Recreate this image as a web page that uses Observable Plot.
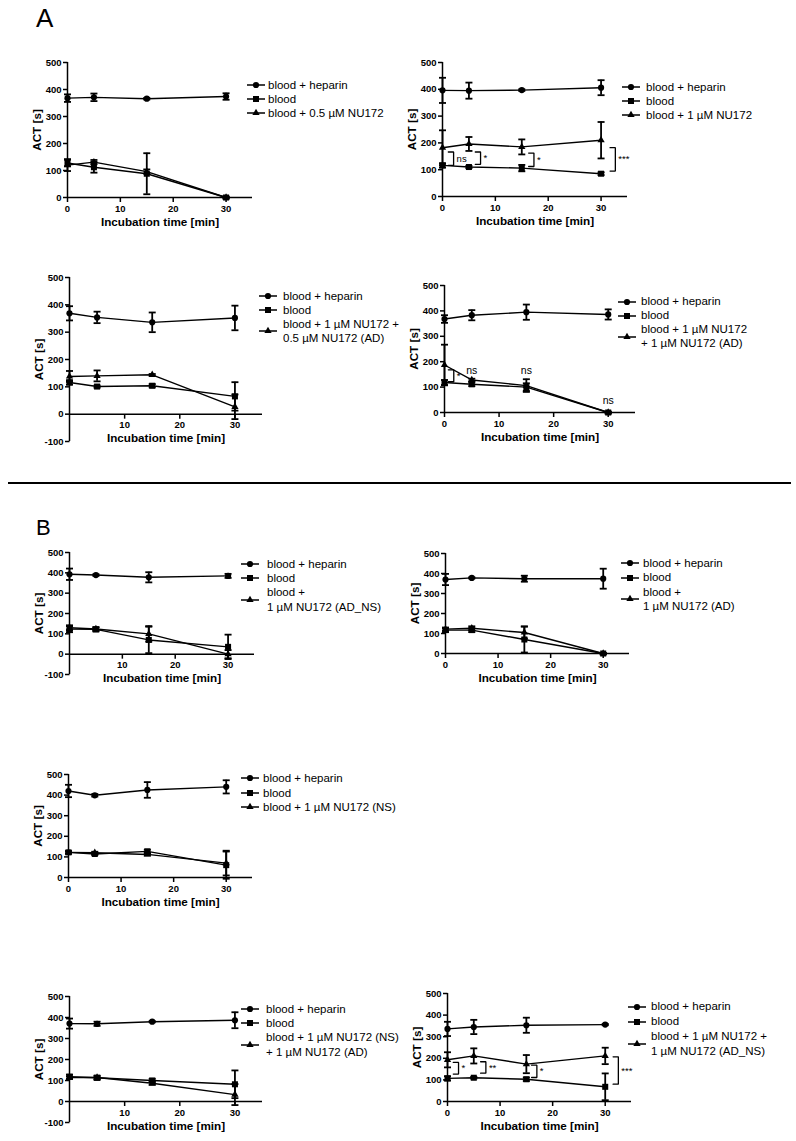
<!DOCTYPE html>
<html><head><meta charset="utf-8">
<script src="https://cdn.jsdelivr.net/npm/d3@7"></script>
<script src="https://cdn.jsdelivr.net/npm/@observablehq/plot@0.6"></script>
<style>
html,body{margin:0;padding:0;background:#fff;}
#page{position:relative;width:796px;height:1141px;overflow:hidden;font-family:"Liberation Sans",Arial,sans-serif;color:#000;background:#fff;}
.leg{position:absolute;font-size:11.5px;white-space:pre;font-family:"Liberation Sans",Arial,sans-serif;}
.letter{position:absolute;font-family:"Liberation Sans",Arial,sans-serif;line-height:1;}
</style></head><body><div id="page"></div>
<script>
// ---------- shared data ----------
const times = [0, 5, 15, 30];
const xTickValues = [0, 10, 20, 30];
const yTickValuesPos = [0, 100, 200, 300, 400, 500];
const yTickValuesNeg = [-100, 0, 100, 200, 300, 400, 500];
const xTitle = "Incubation time [min]";
const yTitle = "ACT [s]";
const labelHeparin = "blood + heparin";
const labelBlood = "blood";

// ---------- A1 ----------
const a1Label = "blood + 0.5 µM NU172";
const a1Heparin = [368, 371, 366, 374];
const a1HeparinErr = [14, 14, 3, 12];
const a1Blood = [128, 112, 88, 0];
const a1BloodErr = [12, 20, 76, 3];
const a1Nu = [120, 131, 96, 0];
const a1NuErr = [22, 8, 8, 3];

// ---------- A2 ----------
const a2Label = "blood + 1 µM NU172";
const a2Heparin = [396, 395, 397, 406];
const a2HeparinErr = [47, 30, 3, 28];
const a2Blood = [116, 110, 106, 85];
const a2BloodErr = [8, 4, 12, 5];
const a2Nu = [182, 196, 185, 210];
const a2NuErr = [65, 26, 28, 68];
const a2Brackets = [
  {x: 2.1, y1: 116, y2: 166, label: "ns"},
  {x: 7.2, y1: 120, y2: 166, label: "*"},
  {x: 17.3, y1: 112, y2: 162, label: "*"},
  {x: 32.7, y1: 95, y2: 182, label: "***"}
];

// ---------- A3 ----------
const a3Label = "blood + 1 µM NU172 +\n0.5 µM NU172 (AD)";
const a3Heparin = [369, 354, 336, 352];
const a3HeparinErr = [26, 21, 36, 45];
const a3Blood = [116, 101, 104, 65];
const a3BloodErr = [8, 4, 6, 52];
const a3Nu = [138, 140, 144, 27];
const a3NuErr = [20, 20, 3, 45];

// ---------- A4 ----------
const a4Label = "blood + 1 µM NU172\n+ 1 µM NU172 (AD)";
const a4Heparin = [368, 383, 395, 386];
const a4HeparinErr = [15, 20, 30, 20];
const a4Blood = [118, 111, 100, 0];
const a4BloodErr = [10, 7, 15, 3];
const a4Nu = [187, 128, 106, 0];
const a4NuErr = [80, 5, 25, 3];
const a4Brackets = [{x: 1.7, y1: 121, y2: 168, label: "*"}];
const a4Notes = [
  {x: 5, y: 164, label: "ns"},
  {x: 15, y: 164, label: "ns"},
  {x: 30, y: 46, label: "ns"}
];

// ---------- B1 ----------
const b1Label = "blood +\n1 µM NU172 (AD_NS)";
const b1Heparin = [393, 389, 378, 385];
const b1HeparinErr = [28, 4, 25, 10];
const b1Blood = [123, 122, 70, 36];
const b1BloodErr = [15, 10, 65, 60];
const b1Nu = [130, 124, 100, 0];
const b1NuErr = [12, 8, 38, 20];

// ---------- B2 ----------
const b2Label = "blood +\n1 µM NU172 (AD)";
const b2Heparin = [370, 378, 374, 374];
const b2HeparinErr = [28, 3, 15, 50];
const b2Blood = [117, 117, 70, 0];
const b2BloodErr = [10, 10, 65, 3];
const b2Nu = [122, 126, 105, 0];
const b2NuErr = [8, 10, 30, 3];

// ---------- B3 ----------
const b3Label = "blood + 1 µM NU172 (NS)";
const b3Heparin = [420, 399, 425, 440];
const b3HeparinErr = [30, 6, 38, 32];
const b3Blood = [122, 114, 127, 60];
const b3BloodErr = [6, 5, 8, 66];
const b3Nu = [122, 120, 112, 70];
const b3NuErr = [5, 5, 5, 60];

// ---------- B4 ----------
const b4Label = "blood + 1 µM NU172 (NS)\n+ 1 µM NU172 (AD)";
const b4Heparin = [371, 370, 380, 387];
const b4HeparinErr = [24, 10, 3, 38];
const b4Blood = [118, 113, 100, 82];
const b4BloodErr = [10, 10, 8, 66];
const b4Nu = [114, 114, 87, 33];
const b4NuErr = [6, 6, 8, 50];

// ---------- B5 ----------
const b5Label = "blood + 1 µM NU172 +\n1 µM NU172 (AD_NS)";
const b5Heparin = [336, 345, 353, 356];
const b5HeparinErr = [33, 33, 35, 3];
const b5Blood = [107, 110, 103, 68];
const b5BloodErr = [10, 4, 8, 62];
const b5Nu = [193, 211, 173, 211];
const b5NuErr = [35, 35, 42, 38];
const b5Brackets = [
  {x: 2.1, y1: 127, y2: 181, label: "*"},
  {x: 7.3, y1: 131, y2: 184, label: "**"},
  {x: 17, y1: 111, y2: 168, label: "*"},
  {x: 32.5, y1: 80, y2: 207, label: "***"}
];

// ---------- panels (built from the arrays above) ----------
const panels = [
  {name: "A1", nuLabel: a1Label, hep: a1Heparin, hepE: a1HeparinErr, blood: a1Blood, bloodE: a1BloodErr, nu: a1Nu, nuE: a1NuErr, brackets: [], notes: []},
  {name: "A2", nuLabel: a2Label, hep: a2Heparin, hepE: a2HeparinErr, blood: a2Blood, bloodE: a2BloodErr, nu: a2Nu, nuE: a2NuErr, brackets: a2Brackets, notes: []},
  {name: "A3", nuLabel: a3Label, hep: a3Heparin, hepE: a3HeparinErr, blood: a3Blood, bloodE: a3BloodErr, nu: a3Nu, nuE: a3NuErr, brackets: [], notes: []},
  {name: "A4", nuLabel: a4Label, hep: a4Heparin, hepE: a4HeparinErr, blood: a4Blood, bloodE: a4BloodErr, nu: a4Nu, nuE: a4NuErr, brackets: a4Brackets, notes: a4Notes},
  {name: "B1", nuLabel: b1Label, hep: b1Heparin, hepE: b1HeparinErr, blood: b1Blood, bloodE: b1BloodErr, nu: b1Nu, nuE: b1NuErr, brackets: [], notes: []},
  {name: "B2", nuLabel: b2Label, hep: b2Heparin, hepE: b2HeparinErr, blood: b2Blood, bloodE: b2BloodErr, nu: b2Nu, nuE: b2NuErr, brackets: [], notes: []},
  {name: "B3", nuLabel: b3Label, hep: b3Heparin, hepE: b3HeparinErr, blood: b3Blood, bloodE: b3BloodErr, nu: b3Nu, nuE: b3NuErr, brackets: [], notes: []},
  {name: "B4", nuLabel: b4Label, hep: b4Heparin, hepE: b4HeparinErr, blood: b4Blood, bloodE: b4BloodErr, nu: b4Nu, nuE: b4NuErr, brackets: [], notes: []},
  {name: "B5", nuLabel: b5Label, hep: b5Heparin, hepE: b5HeparinErr, blood: b5Blood, bloodE: b5BloodErr, nu: b5Nu, nuE: b5NuErr, brackets: b5Brackets, notes: []}
];

// ---------- layout (pixel positions on the page) ----------
const layout = {
  A1: {axisX: 67, xEnd: 252, yTop: 62, yBot: 197, ymin: 0, titleY: 222, leg: {mx: 256, tx: 268, y0: 85, lh: 14}},
  A2: {axisX: 442, xEnd: 627, yTop: 62, yBot: 196, ymin: 0, titleY: 221, leg: {mx: 631, tx: 646, y0: 86.7, lh: 14}},
  A3: {axisX: 69, xEnd: 262, yTop: 277, yBot: 441, ymin: -100, titleY: 438, leg: {mx: 268, tx: 283, y0: 295.7, lh: 14.2}},
  A4: {axisX: 444, xEnd: 635, yTop: 285, yBot: 412, ymin: 0, titleY: 437, leg: {mx: 627, tx: 641, y0: 302.3, lh: 13.9}},
  B1: {axisX: 69, xEnd: 254, yTop: 552, yBot: 674, ymin: -100, titleY: 678, leg: {mx: 250, tx: 267, y0: 564.3, lh: 14.1}},
  B2: {axisX: 445, xEnd: 629, yTop: 553, yBot: 653, ymin: 0, titleY: 678, leg: {mx: 630, tx: 643, y0: 563.3, lh: 14.2}},
  B3: {axisX: 68, xEnd: 252, yTop: 774, yBot: 877, ymin: 0, titleY: 902, leg: {mx: 250, tx: 263, y0: 778.3, lh: 14.5}},
  B4: {axisX: 69, xEnd: 262, yTop: 996, yBot: 1122, ymin: -100, titleY: 1126, leg: {mx: 250, tx: 266, y0: 1009.3, lh: 14.1}},
  B5: {axisX: 447, xEnd: 631, yTop: 993, yBot: 1101, ymin: 0, titleY: 1126, leg: {mx: 637, tx: 651, y0: 1006.7, lh: 14.8}}
};

const FONT = "Liberation Sans, Arial, sans-serif";
const tickLeft = {draw(ctx) { ctx.moveTo(0, 0); ctx.lineTo(-4.5, 0); }};
const tickDown = {draw(ctx) { ctx.moveTo(0, 0); ctx.lineTo(0, 4.5); }};
const capSym = {draw(ctx) { ctx.moveTo(-3.5, 0); ctx.lineTo(3.5, 0); }};
const symR = {circle: 3.1, square: 3.4, triangle: 2.7};

const page = document.getElementById("page");

function buildPlot(p, L) {
  const ML = 50, MR = 30, MT = 12, MB = 40;
  const W = ML + (L.xEnd - L.axisX) + MR;
  const H = MT + (L.yBot - L.yTop) + MB;
  const mk = (vals, errs, key) => times.map((t, i) => ({t, v: vals[i], e: errs[i], key}));
  const hep = mk(p.hep, p.hepE, "hep");
  const bl = mk(p.blood, p.bloodE, "blood");
  const nu = mk(p.nu, p.nuE, "nu");
  const all = [...hep, ...bl, ...nu];
  const yT = L.ymin < 0 ? yTickValuesNeg : yTickValuesPos;
  const xT = L.ymin < 0 ? xTickValues.filter(d => d !== 0) : xTickValues;
  const bracketPts = p.brackets.flatMap((b, i) => [
    {id: i, x: b.x - 1, y: b.y2}, {id: i, x: b.x, y: b.y2},
    {id: i, x: b.x, y: b.y1}, {id: i, x: b.x - 1, y: b.y1}
  ]);
  const txt = {fontFamily: FONT, fill: "black", lineAnchor: "middle"};
  const marks = [
    // axes
    Plot.ruleX([0], {y1: L.ymin, y2: 500, stroke: "black", strokeWidth: 1.5}),
    Plot.ruleY([0], {x1: 0, x2: 35, stroke: "black", strokeWidth: 1.5}),
    Plot.dot(yT, {x: 0, y: d => d, symbol: tickLeft, fill: "none", stroke: "black", strokeWidth: 1.5}),
    Plot.text(yT, {x: 0, y: d => d, text: d => String(d), dx: -6, textAnchor: "end", fontSize: 9.5, fontWeight: "bold", ...txt}),
    Plot.dot(xT, {x: d => d, y: 0, symbol: tickDown, fill: "none", stroke: "black", strokeWidth: 1.5}),
    Plot.text(xT, {x: d => d, y: 0, dy: 11, text: d => String(d), fontSize: 9.5, fontWeight: "bold", ...txt}),
    Plot.text([xTitle], {text: d => d, frameAnchor: "bottom", textAnchor: "middle", dy: L.titleY - L.yBot, fontSize: 11.7, fontWeight: "bold", ...txt}),
    Plot.text([yTitle], {text: d => d, frameAnchor: "left", textAnchor: "middle", dx: -30, rotate: -90, fontSize: 11.7, fontWeight: "bold", ...txt}),
    // data lines
    Plot.line(all, {x: "t", y: "v", z: "key", stroke: "black", strokeWidth: 1.4}),
    // error bars
    Plot.ruleX(all, {x: "t", y1: d => d.v - d.e, y2: d => d.v + d.e, stroke: "black", strokeWidth: 1.8}),
    Plot.dot(all, {x: "t", y: d => d.v + d.e, symbol: capSym, fill: "none", stroke: "black", strokeWidth: 1.8}),
    Plot.dot(all, {x: "t", y: d => d.v - d.e, symbol: capSym, fill: "none", stroke: "black", strokeWidth: 1.8}),
    // markers
    Plot.dot(hep, {x: "t", y: "v", symbol: "circle", r: symR.circle, fill: "black", stroke: "none"}),
    Plot.dot(bl, {x: "t", y: "v", symbol: "square", r: symR.square, fill: "black", stroke: "none"}),
    Plot.dot(nu, {x: "t", y: "v", symbol: "triangle", r: symR.triangle, fill: "black", stroke: "none"}),
    // significance
    Plot.line(bracketPts, {x: "x", y: "y", z: "id", stroke: "black", strokeWidth: 1.3, strokeLinejoin: "miter"}),
    Plot.text(p.brackets, {x: "x", y: d => (d.y1 + d.y2) / 2, text: "label", dx: 3, textAnchor: "start", fontSize: 9.5, ...txt}),
    Plot.text(p.notes, {x: "x", y: "y", text: "label", fontSize: 10.5, ...txt})
  ];
  const svg = Plot.plot({
    width: W, height: H,
    marginLeft: ML, marginRight: MR, marginTop: MT, marginBottom: MB,
    x: {domain: [0, 35], axis: null},
    y: {domain: [L.ymin, 500], axis: null},
    style: {background: "none", overflow: "visible", fontFamily: FONT},
    marks
  });
  svg.style.position = "absolute";
  svg.style.left = (L.axisX - ML) + "px";
  svg.style.top = (L.yTop - MT) + "px";
  page.appendChild(svg);
}

function addLegend(p, L) {
  const labels = [labelHeparin, labelBlood, p.nuLabel];
  const symbols = [d3.symbolCircle, d3.symbolSquare, d3.symbolTriangle];
  const radii = [symR.circle, symR.square, symR.triangle];
  let line = 0;
  labels.forEach((lab, i) => {
    const lines = lab.split("\n");
    const y0 = L.leg.y0 + line * L.leg.lh;
    const my = y0 + (lines.length - 1) * L.leg.lh / 2;
    const div = document.createElement("div");
    div.className = "leg";
    div.style.left = L.leg.tx + "px";
    div.style.top = (y0 - L.leg.lh / 2) + "px";
    div.style.lineHeight = L.leg.lh + "px";
    div.textContent = lab;
    page.appendChild(div);
    const s = d3.create("svg").attr("width", 22).attr("height", 12)
      .style("position", "absolute").style("left", (L.leg.mx - 11) + "px").style("top", (my - 6) + "px")
      .style("overflow", "visible");
    s.append("line").attr("x1", 2).attr("x2", 20).attr("y1", 6).attr("y2", 6).attr("stroke", "black").attr("stroke-width", 1.5);
    s.append("path").attr("transform", "translate(11,6)")
      .attr("d", d3.symbol(symbols[i], radii[i] * radii[i] * Math.PI)()).attr("fill", "black");
    page.appendChild(s.node());
    line += lines.length;
  });
}

panels.forEach(p => { buildPlot(p, layout[p.name]); addLegend(p, layout[p.name]); });

// panel letters and separator
const A = document.createElement("div"); A.className = "letter"; A.textContent = "A";
A.style.left = "36px"; A.style.top = "5px"; A.style.fontSize = "26px"; page.appendChild(A);
const B = document.createElement("div"); B.className = "letter"; B.textContent = "B";
B.style.left = "36px"; B.style.top = "517px"; B.style.fontSize = "22px"; page.appendChild(B);
const sep = document.createElement("div");
sep.style.cssText = "position:absolute;left:8px;top:482px;width:783px;height:2px;background:#000;";
page.appendChild(sep);
</script></body></html>
